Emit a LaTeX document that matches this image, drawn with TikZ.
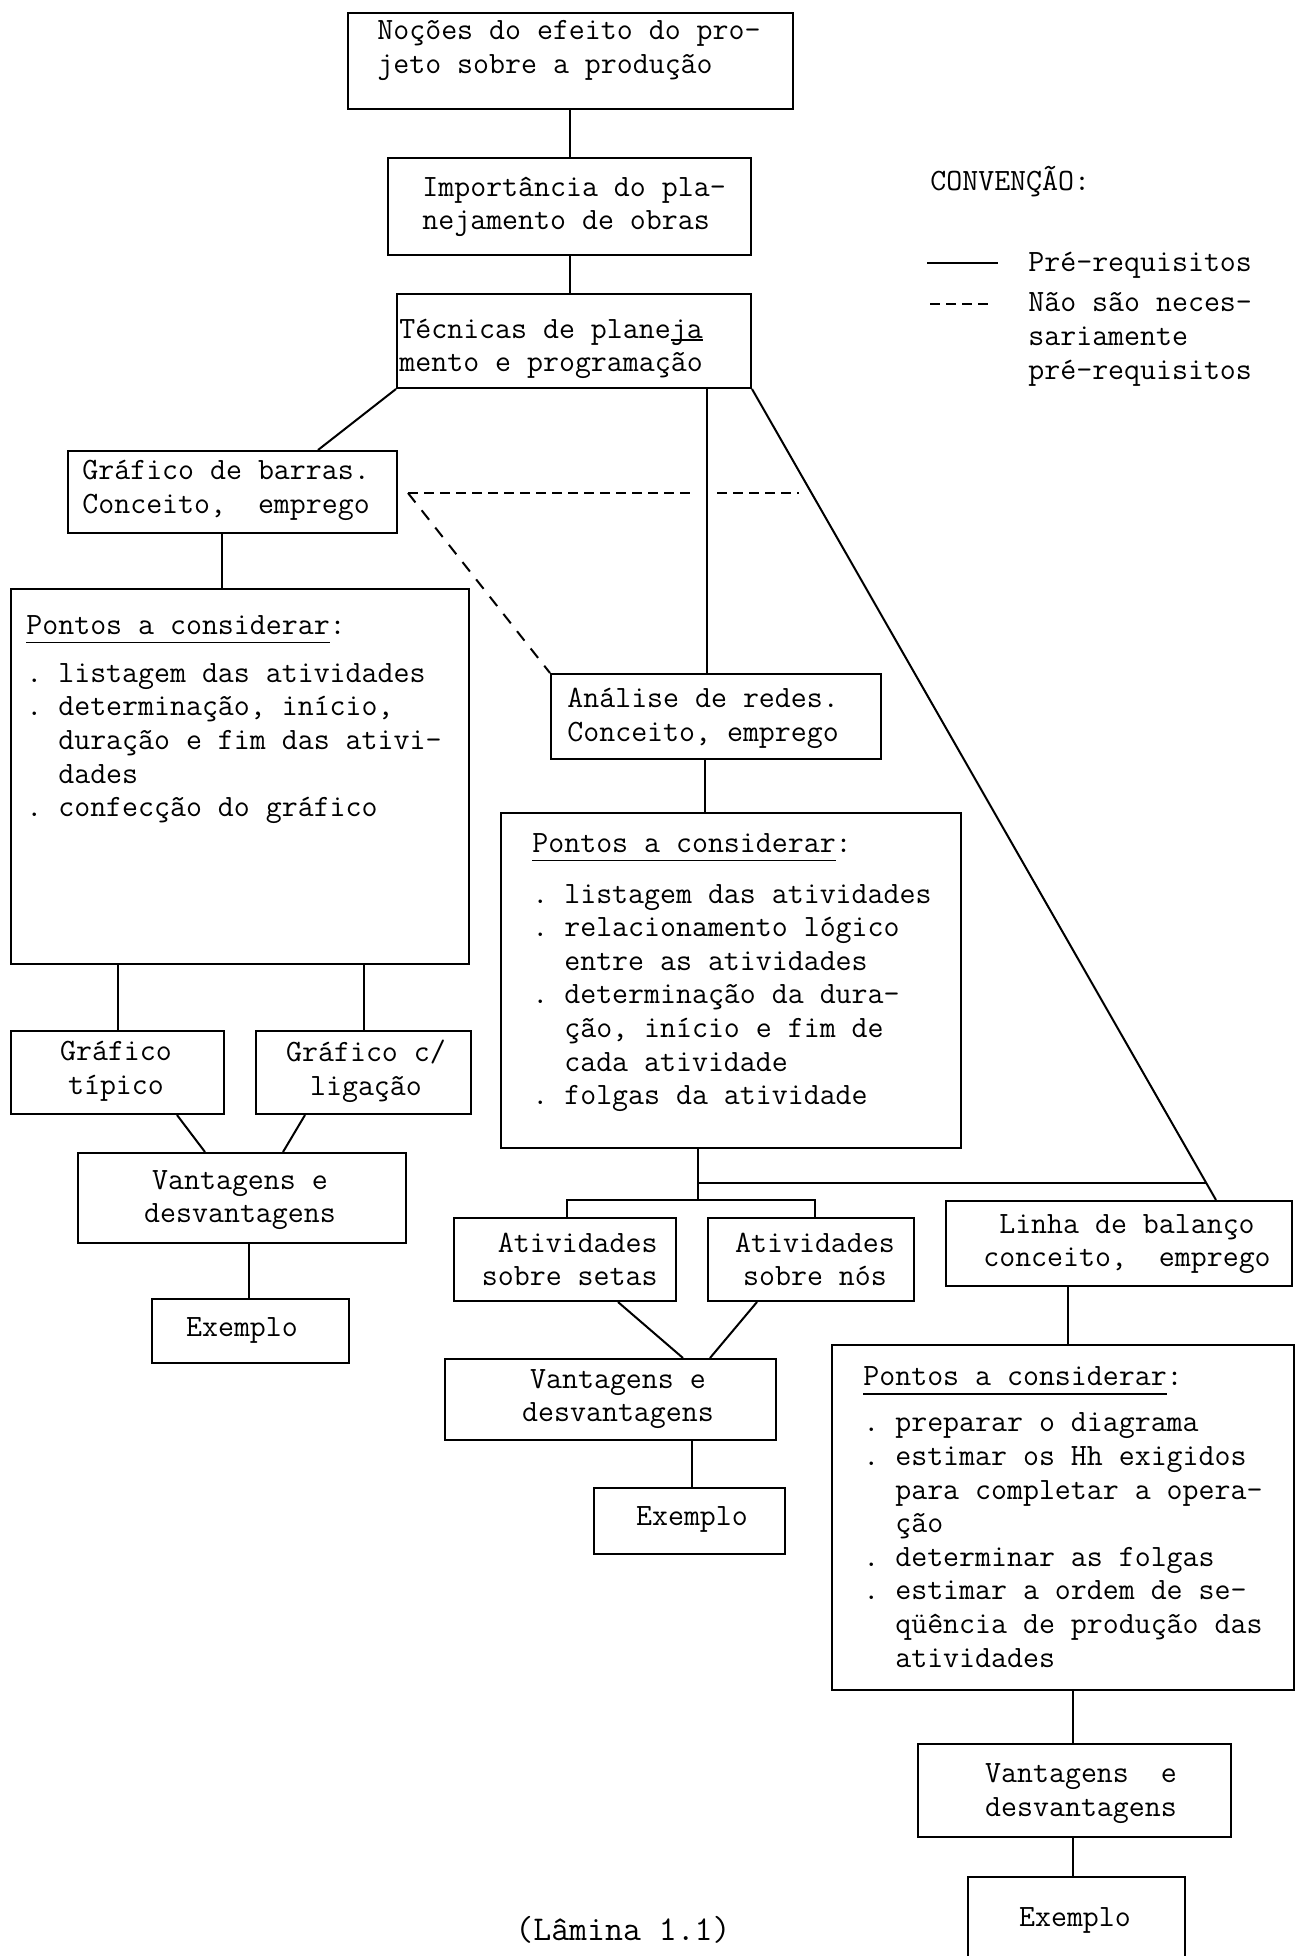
\documentclass[tikz,border=0pt]{standalone}
\usepackage{fontspec}
\usetikzlibrary{calc}
\frenchspacing
% underline drawn at a chosen depth below the baseline
\newcommand{\sublinhado}[2]{\setbox0\hbox{#2}\rlap{\rule[#1]{\wd0}{0.8pt}}\box0}
\tikzset{
  box/.style={draw, line width=1pt, anchor=north west, inner sep=0pt},
  sz/.style 2 args={minimum width=#1*0.5pt, minimum height=#2*0.5pt},
  txt/.style={inner sep=0pt, font=\ttfamily\fontsize{15.5pt}{16.8pt}\selectfont, align=center},
  lig/.style={line width=1pt},
  tracejado/.style={line width=1pt, dash pattern=on 5pt off 3pt},
  tracejadodiag/.style={line width=1pt, dash pattern=on 6pt off 5pt},
}
\begin{document}
\begin{tikzpicture}[x=0.5pt, y=-0.5pt]
\fill[white] (0,0) rectangle (1303,1956);
\useasboundingbox (0,0) rectangle (1303,1956);

% ---------- boxes ----------
\node[box, sz={445}{96}]  (b1)      at (347,12)   {};
\node[box, sz={363}{97}]  (b2)      at (387,157)  {};
\node[box, sz={354}{94}]  (b3)      at (396,293)  {};
\node[box, sz={329}{82}]  (barras)  at (67,450)   {};
\node[box, sz={458}{375}] (p1)      at (10,588)   {};
\node[box, sz={213}{83}]  (tipico)  at (10,1030)  {};
\node[box, sz={215}{83}]  (ligacao) at (255,1030) {};
\node[box, sz={328}{90}]  (v1)      at (77,1152)  {};
\node[box, sz={197}{64}]  (e1)      at (151,1298) {};
\node[box, sz={330}{85}]  (analise) at (550,673)  {};
\node[box, sz={460}{335}] (p2)      at (500,812)  {};
\node[box, sz={222}{83}]  (setas)   at (453,1217) {};
\node[box, sz={206}{83}]  (nos)     at (707,1217) {};
\node[box, sz={331}{81}]  (v2)      at (444,1358) {};
\node[box, sz={191}{66}]  (e2)      at (593,1487) {};
\node[box, sz={346}{85}]  (linha)   at (945,1200) {};
\node[box, sz={462}{345}] (p3)      at (831,1344) {};
\node[box, sz={313}{93}]  (v3)      at (917,1743) {};
\node[box, sz={217}{100}] (e3)      at (967,1876) {};

% ---------- box texts ----------
\node[txt, anchor=west, align=left] (b1t) at (377,50.5) {Noções do efeito do pro-\\jeto sobre a produção};
\node[txt, anchor=west, align=left] (b2t) at (422,207) {Importância do pla-\\nejamento de obras};
\node[txt, anchor=west, align=left] (b3t) at (399,349) {Técnicas de plane\sublinhado{-1.2pt}{ja}\\mento e programação};
\node[txt, anchor=west, align=left] (barrast) at (82,490.5) {Gráfico de barras.\\Conceito,~ emprego};
\node[txt, anchor=west, align=left] (p1t) at (26,719.5)
  {\sublinhado{-4.5pt}{Pontos a considerar}:\\[7.2pt]
   . listagem das atividades\\
   . determinação, início,\\
   \hphantom{.~}duração e fim das ativi-\\
   \hphantom{.~}dades\\
   . confecção do gráfico};
\node[txt] (tipicot) at (116,1071.5) {Gráfico\\típico};
\node[txt] (ligacaot) at (366,1071.5) {Gráfico c/\\ligação};
\node[txt] (v1t) at (240,1200) {Vantagens e\\desvantagens};
\node[txt] (e1t) at (242,1330) {Exemplo};
\node[txt, anchor=west, align=left] (analiset) at (567,718.5) {Análise de redes.\\Conceito, emprego};
\node[txt, anchor=west, align=left] (p2t) at (532,972.5)
  {\sublinhado{-4.5pt}{Pontos a considerar}:\\[8.7pt]
   . listagem das atividades\\
   . relacionamento lógico\\
   \hphantom{.~}entre as atividades\\
   . determinação da dura-\\
   \hphantom{.~}ção, início e fim de\\
   \hphantom{.~}cada atividade\\
   . folgas da atividade};
\node[txt, anchor=east, align=right] (setast) at (658,1259.5) {Atividades\\sobre setas};
\node[txt] (nost) at (815,1259.5) {Atividades\\sobre nós};
\node[txt] (v2t) at (618,1399) {Vantagens e\\desvantagens};
\node[txt] (e2t) at (692,1519) {Exemplo};
\node[txt] (linhat) at (1127,1244) {Linha de balanço\\conceito,~ emprego};
\node[txt, anchor=west, align=left] (p3t) at (863,1517)
  {\sublinhado{-4.5pt}{Pontos a considerar}:\\[6.2pt]
   . preparar o diagrama\\
   . estimar os Hh exigidos\\
   \hphantom{.~}para completar a opera-\\
   \hphantom{.~}ção\\
   . determinar as folgas\\
   . estimar a ordem de se-\\
   \hphantom{.~}qüência de produção das\\
   \hphantom{.~}atividades};
\node[txt] (v3t) at (1081,1793.5) {Vantagens~ e\\desvantagens};
\node[txt] (e3t) at (1075,1920) {Exemplo};

% ---------- legend ----------
\node[txt, anchor=west] (conv) at (930,182) {CONVENÇÃO:};
\coordinate (ls1) at (927,263);
\coordinate (le1) at (998,263);
\draw[lig] (ls1) -- (le1);
\node[txt, anchor=west] (pre) at (1028,265) {Pré-requisitos};
\coordinate (ls2) at (930,304);
\coordinate (le2) at (993,304);
\draw[tracejado] (ls2) -- (le2);
\node[txt, anchor=west, align=left] (naonec) at (1028,339.5) {Não são neces-\\sariamente\\pré-requisitos};

\node[txt, font=\ttfamily\fontsize{17.4pt}{18pt}\selectfont] (lamina) at (623,1930) {(Lâmina 1.1)};

% ---------- solid connectors ----------
\draw[lig] (b2.north) -- (b2.north |- b1.south);
\draw[lig] (b2.south) -- (b2.south |- b3.north);
\draw[lig] (b3.south west) -- ($(barras.north west)+(251,0)$);
\coordinate (cv) at ($(b3.south west)+(311,0)$);
\draw[lig] (cv) -- (cv |- analise.north);
\coordinate (lt) at ($(linha.north west)+(271,0)$);
\draw[lig] (b3.south east) -- (lt);
\coordinate (dj) at ($(b3.south east)!0.979!(lt)$);
\coordinate (dd) at ($(b3.south east)!0.127!(lt)$);

\coordinate (c1) at ($(barras.south west)+(155,0)$);
\draw[lig] (c1) -- (c1 |- p1.north);
\draw[lig] (tipico.north) -- (tipico.north |- p1.south);
\draw[lig] (ligacao.north) -- (ligacao.north |- p1.south);
\draw[lig] ($(tipico.south west)+(167,0)$) -- ($(v1.north west)+(128,0)$);
\draw[lig] ($(ligacao.south west)+(50,0)$) -- ($(v1.north west)+(206,0)$);
\coordinate (c2) at ($(e1.north west)+(98,0)$);
\draw[lig] (c2) -- (c2 |- v1.south);

\coordinate (c3) at ($(analise.south west)+(155,0)$);
\draw[lig] (c3) -- (c3 |- p2.north);
\coordinate (p2s) at ($(p2.south west)+(198,0)$);
\coordinate (bk) at ($(setas.north west)+(114,-17)$);
\draw[lig] (p2s) -- (p2s |- bk);
\draw[lig] ($(setas.north west)+(114,0)$) |- ($(nos.north west)+(108,-17)$) -- ($(nos.north west)+(108,0)$);
\draw[lig] (p2s |- dj) -- (dj);
\draw[lig] ($(setas.south west)+(165,0)$) -- ($(v2.north west)+(239,0)$);
\draw[lig] ($(nos.south west)+(50,0)$) -- ($(v2.north west)+(266,0)$);
\coordinate (c4) at ($(e2.north west)+(99,0)$);
\draw[lig] (c4) -- (c4 |- v2.south);

\coordinate (c5) at ($(linha.south west)+(123,0)$);
\draw[lig] (c5) -- (c5 |- p3.north);
\coordinate (c6) at ($(v3.north west)+(156,0)$);
\draw[lig] (c6) -- (c6 |- p3.south);
\coordinate (c7) at ($(e3.north west)+(106,0)$);
\draw[lig] (c7) -- (c7 |- v3.south);

% ---------- dashed connectors ----------
\coordinate (ds) at ($(barras.east)+(10,1)$);
\draw[tracejado] (ds) -- ($(ds -| cv)+(-12,0)$);
\draw[tracejado] ($(ds -| cv)+(10,0)$) -- ($(ds -| dd)+(-12,0)$);
\draw[tracejadodiag] (ds) -- (analise.north west);
\end{tikzpicture}
\end{document}
